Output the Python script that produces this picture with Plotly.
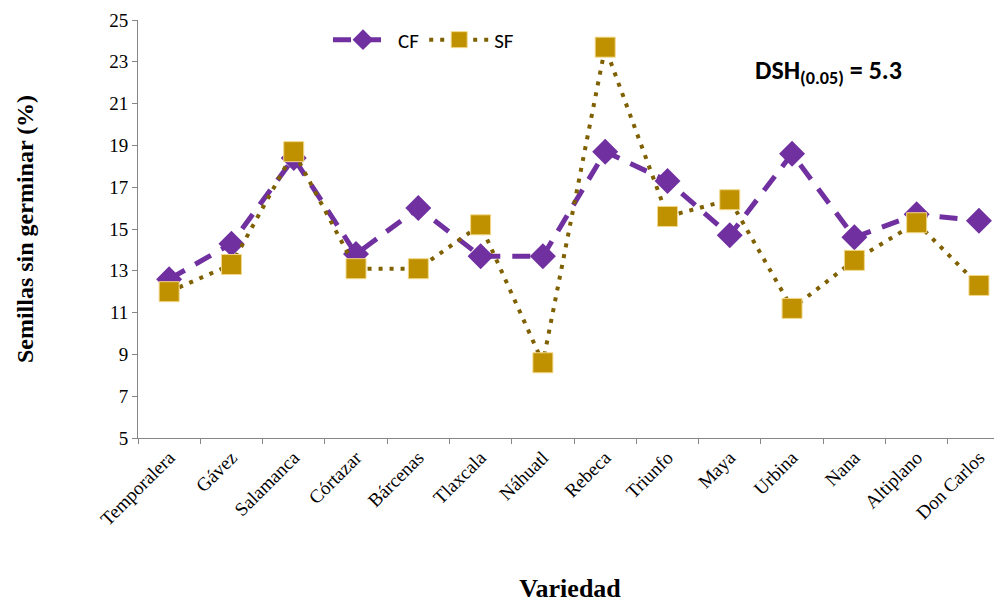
import plotly.graph_objects as go

variedades = ["Temporalera", "Gávez", "Salamanca", "Córtazar", "Bárcenas", "Tlaxcala",
              "Náhuatl", "Rebeca", "Triunfo", "Maya", "Urbina", "Nana", "Altiplano", "Don Carlos"]
cf = [12.6, 14.3, 18.4, 13.8, 16.0, 13.7, 13.7, 18.7, 17.3, 14.7, 18.6, 14.6, 15.7, 15.4]
sf = [12.0, 13.3, 18.7, 13.1, 13.1, 15.2, 8.6, 23.7, 15.6, 16.4, 11.2, 13.5, 15.3, 12.3]
y_ticks = list(range(5, 26, 2))

fig = go.Figure()
fig.add_trace(go.Scatter(
    x=variedades, y=cf, name="CF", mode="lines+markers",
    line=dict(color="#7030A0", width=5, dash="18px,12px"),
    marker=dict(symbol="diamond", size=20, color="#7030A0"),
))
fig.add_trace(go.Scatter(
    x=variedades, y=sf, name="SF", mode="lines+markers",
    line=dict(color="#7F6000", width=4, dash="4px,7px"),
    marker=dict(symbol="square", size=20, color="#BF9000",
                line=dict(color="#F2D88A", width=1)),
))

serif = "Liberation Serif, Times New Roman, serif"
sans = "Carlito, Lato, sans-serif"
# page body adds an 8px offset, so the figure is sized/margined to compensate
fig.update_layout(
    width=994, height=595,
    margin=dict(l=130, r=0, t=12, b=165),
    paper_bgcolor="white", plot_bgcolor="white",
    showlegend=True,
    legend=dict(orientation="h", x=(328 - 138) / 864, y=(438 - 40) / 418,
                xanchor="left", yanchor="middle",
                font=dict(family=sans, size=21, color="black"),
                bgcolor="rgba(0,0,0,0)", itemwidth=60),
    xaxis=dict(
        type="category", range=[-0.5, 13.37], tickson="boundaries",
        showline=True, linecolor="#868686", linewidth=1,
        ticks="outside", ticklen=5, tickcolor="#868686",
        tickangle=-45, showgrid=False, automargin=False,
        tickfont=dict(family=serif, size=19, color="black"),
        title=dict(text="<b>Variedad</b>", font=dict(family=serif, size=26, color="black"), standoff=56),
    ),
    yaxis=dict(
        range=[5, 25], tickvals=y_ticks, showline=True, linecolor="#868686", linewidth=1,
        ticks="outside", ticklen=5, tickcolor="#868686", showgrid=False, zeroline=False,
        automargin=False,
        tickfont=dict(family=serif, size=19, color="black"),
        title=dict(text="<b>Semillas sin germinar (%)</b>", font=dict(family=serif, size=24, color="black"), standoff=68),
    ),
    annotations=[dict(
        text="<b>DSH<sub>(0.05)</sub> = 5.3</b>", xref="paper", yref="paper",
        x=(828 - 138) / 864, y=(438 - 72) / 418, xanchor="center", yanchor="middle",
        showarrow=False, font=dict(family=sans, size=26, color="black"),
    )],
)

fig.write_html("out.html")
